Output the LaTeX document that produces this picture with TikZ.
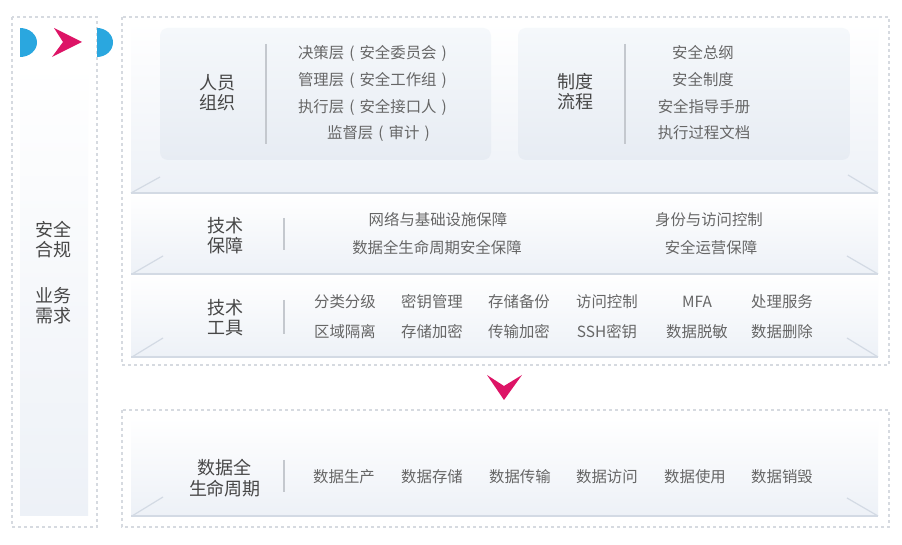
\documentclass[tikz,border=0pt]{standalone}
\usepackage{fontspec}
\setmainfont{Noto Sans CJK SC}
\definecolor{txt}{HTML}{666666}
\definecolor{hdrc}{HTML}{474747}
\definecolor{dashc}{HTML}{D6DAE0}
\definecolor{linec}{HTML}{D3DAE4}
\definecolor{sepc}{HTML}{C4C8CE}
\definecolor{bluec}{HTML}{2AA7DF}
\definecolor{pinkc}{HTML}{DD1466}
\definecolor{panb}{HTML}{EDF1F7}
\definecolor{boxt}{HTML}{F5F8FB}
\definecolor{boxb}{HTML}{E7ECF3}
\newcommand{\myLP}{\makebox[1em][c]{(}}
\newcommand{\myRP}{\makebox[1em][c]{)}}
\begin{document}
\begin{tikzpicture}[x=0.5pt,y=-0.5pt,
  item/.style={font=\fontsize{7.7}{9}\selectfont, text=txt, inner sep=0pt},
  hdr/.style={font=\fontsize{9}{10}\selectfont, text=hdrc, align=center, inner sep=0pt},
  dbox/.style={draw=dashc, dash pattern=on 1.5pt off 1.5pt, line width=0.6pt},
  sepline/.style={draw=sepc, line width=1pt},
  baseline/.style={draw=linec, line width=1pt},
  diag/.style={draw=linec, line width=0.6pt},
  band/.style={top color=white, bottom color=panb, draw=none},
  panel/.style={top color=boxt, bottom color=boxb, draw=none, rounded corners=4pt}]
\useasboundingbox (0,0) rectangle (902,545);
\fill[white] (0,0) rectangle (902,545);

% left column
\draw[dbox] (12,17) rectangle (97,527);
\shade[top color=white, bottom color=panb] (20,62) rectangle (88,516);
\fill[bluec] (20,57) arc[start angle=90, end angle=-90, x radius=17, y radius=14.5] -- cycle;
\fill[bluec] (97,57) arc[start angle=90, end angle=-90, x radius=16, y radius=14.5] -- cycle;
\fill[pinkc] (54,28) -- (82,42) -- (52,57) -- (63,42) -- cycle;
\node[hdr] (comp) at (53,240) {安全\\合规};
\node[hdr] (biz) at (53,306) {业务\\需求};

% main box
\draw[dbox] (122,17) rectangle (889,365);
\shade[band] (131,22) rectangle (878,193);
\shade[band] (131,193) rectangle (878,274);
\shade[band] (131,274) rectangle (878,357);
\draw[baseline] (131,193) -- (878,193);
\draw[baseline] (131,274) -- (878,274);
\draw[baseline] (131,357) -- (878,357);
\draw[diag] (131,193) -- (160,177);
\draw[diag] (878,193) -- (848,175);
\draw[diag] (132,274) -- (163,256);
\draw[diag] (878,274) -- (847,256);
\draw[diag] (132,357) -- (163,338);
\draw[diag] (878,357) -- (847,338);

% top panels
\shade[panel] (160,28) rectangle (491,160);
\shade[panel] (518,28) rectangle (850,160);
\node[hdr] (org) at (217,93) {人员\\组织};
\draw[sepline] (266,44) -- (266,144);
\node[item] (o1) at (375,53) {决策层\myLP 安全委员会\myRP};
\node[item] (o2) at (375,80) {管理层\myLP 安全工作组\myRP};
\node[item] (o3) at (375,107) {执行层\myLP 安全接口人\myRP};
\node[item] (o4) at (381,133) {监督层\myLP 审计\myRP};
\node[hdr] (proc) at (575,92) {制度\\流程};
\draw[sepline] (625,44) -- (625,144);
\node[item] (p1) at (703,53) {安全总纲};
\node[item] (p2) at (703,80) {安全制度};
\node[item] (p3) at (704,107) {安全指导手册};
\node[item] (p4) at (704,133) {执行过程文档};

% tech guarantee
\node[hdr] (tg) at (225,236) {技术\\保障};
\draw[sepline] (284,218) -- (284,250);
\node[item] (g1) at (438,220) {网络与基础设施保障};
\node[item] (g2) at (437,248) {数据全生命周期安全保障};
\node[item] (g3) at (709,220) {身份与访问控制};
\node[item] (g4) at (711,248) {安全运营保障};

% tech tools
\node[hdr] (tt) at (225,318) {技术\\工具};
\draw[sepline] (284,300) -- (284,334);
\node[item] (t1) at (345,302) {分类分级};
\node[item] (t2) at (432,302) {密钥管理};
\node[item] (t3) at (519,302) {存储备份};
\node[item] (t4) at (607,302) {访问控制};
\node[item] (t5) at (697,302) {MFA};
\node[item] (t6) at (782,302) {处理服务};
\node[item] (t7) at (345,332) {区域隔离};
\node[item] (t8) at (432,332) {存储加密};
\node[item] (t9) at (519,332) {传输加密};
\node[item] (t10) at (607,332) {SSH密钥};
\node[item] (t11) at (697,332) {数据脱敏};
\node[item] (t12) at (782,332) {数据删除};

% down chevron
\fill[pinkc] (487,375) -- (504,386) -- (522,375) -- (504,400) -- cycle;

% bottom box
\draw[dbox] (122,410) rectangle (889,527);
\shade[band] (131,418) rectangle (878,516);
\draw[baseline] (131,516) -- (878,516);
\draw[diag] (132,516) -- (163,497);
\draw[diag] (878,516) -- (847,498);
\node[hdr, font=\fontsize{9}{10.5}\selectfont] (life) at (225,478) {数据全\\生命周期};
\draw[sepline] (284,460) -- (284,492);
\node[item] (l1) at (344,477) {数据生产};
\node[item] (l2) at (432,477) {数据存储};
\node[item] (l3) at (520,477) {数据传输};
\node[item] (l4) at (607,477) {数据访问};
\node[item] (l5) at (695,477) {数据使用};
\node[item] (l6) at (782,477) {数据销毁};
\end{tikzpicture}
\end{document}
